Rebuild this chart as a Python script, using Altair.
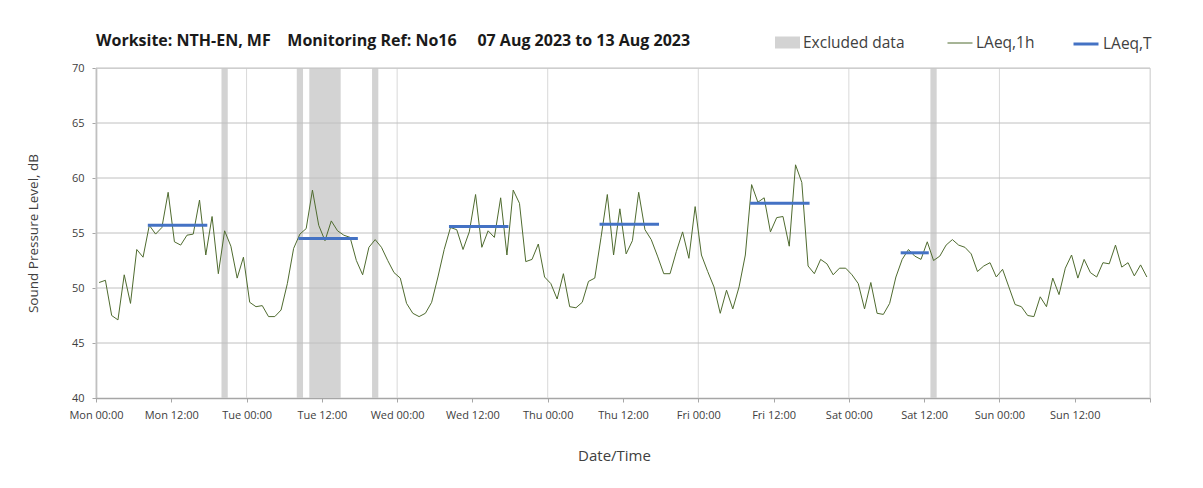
import altair as alt
import pandas as pd

# ---- data ----
days = ["Mon", "Tue", "Wed", "Thu", "Fri", "Sat", "Sun"]

laeq_1h = [
    50.5, 50.7, 47.5, 47.1, 51.2, 48.6, 53.5, 52.8, 55.7, 54.9, 55.5, 58.7,
    54.2, 53.9, 54.8, 54.9, 58.0, 53.0, 56.5, 51.3, 55.2, 53.8, 50.9, 52.8,
    48.7, 48.3, 48.4, 47.4, 47.4, 48.0, 50.4, 53.6, 54.9, 55.4, 58.9, 55.7,
    54.3, 56.1, 55.2, 54.8, 54.6, 52.5, 51.2, 53.7, 54.4, 53.7, 52.5, 51.4,
    50.9, 48.6, 47.7, 47.4, 47.7, 48.7, 51.0, 53.5, 55.5, 55.3, 53.5, 55.1,
    58.5, 53.7, 55.2, 54.6, 58.2, 53.0, 58.9, 57.7, 52.4, 52.6, 54.0, 51.0,
    50.4, 49.0, 51.3, 48.3, 48.2, 48.7, 50.6, 50.9, 54.6, 58.5, 53.0, 57.2,
    53.1, 54.3, 58.7, 55.3, 54.4, 52.9, 51.3, 51.3, 53.3, 55.1, 52.7, 57.4,
    53.0, 51.5, 50.1, 47.7, 49.8, 48.1, 50.1, 53.0, 59.4, 57.8, 58.2, 55.1,
    56.4, 56.5, 53.8, 61.2, 59.6, 52.0, 51.3, 52.6, 52.2, 51.2, 51.8, 51.8,
    51.2, 50.4, 48.1, 50.5, 47.7, 47.6, 48.6, 51.0, 52.6, 53.5, 52.9, 52.6,
    54.2, 52.5, 52.9, 53.9, 54.4, 53.9, 53.7, 53.1, 51.5, 52.0, 52.3, 51.0,
    51.7, 50.1, 48.5, 48.3, 47.5, 47.4, 49.2, 48.3, 50.9, 49.4, 51.8, 53.0,
    50.9, 52.6, 51.4, 51.0, 52.3, 52.2, 53.9, 51.9, 52.3, 51.1, 52.1, 51.0,
]

excl_start = [20, 32, 34, 44, 133]
excl_end = [21, 33, 39, 45, 134]

period_start = [8, 32, 56, 80, 104, 128]
period_end = [18, 42, 66, 90, 114, 133]
laeq_t = [55.7, 54.5, 55.6, 55.8, 57.7, 53.2]

y_grid = [45, 50, 55, 60, 65, 70]
day_bounds = [0, 24, 48, 72, 96, 120, 144, 168]
x_ticks = [0, 12, 24, 36, 48, 60, 72, 84, 96, 108, 120, 132, 144, 156, 168]
y_ticks = [40, 45, 50, 55, 60, 65, 70]

TITLE = ("Worksite: NTH-EN, MF\u00a0\u00a0\u00a0\u00a0Monitoring Ref: No16"
         "\u00a0\u00a0\u00a0\u00a0\u00a007 Aug 2023 to 13 Aug 2023")

# ---- tables ----
line_df = pd.DataFrame({
    "h": [i + 0.5 for i in range(len(laeq_1h))],
    "v": laeq_1h,
    "lab": "LAeq,1h",
})
band_df = pd.DataFrame({"h": excl_start, "h2": excl_end, "lab": "Excluded data"})
t_df = pd.DataFrame({
    "h": [s + 0.5 for s in period_start],
    "h2": [e - 0.5 for e in period_end],
    "v": laeq_t,
    "lab": "LAeq,T",
})
yg_df = pd.DataFrame({"v": y_grid})
xg_df = pd.DataFrame({"h": day_bounds})

FONT = "Open Sans"
TXT = "#404040"

days_js = "[" + ",".join("'%s'" % d for d in days) + "]"
label_expr = ("datum.value >= 168 ? '' : " + days_js +
              "[floor(datum.value / 24)] + ' ' + (datum.value % 24 == 0 ? '00:00' : '12:00')")

xs = alt.Scale(domain=[0, 168], nice=False, zero=False)
ys = alt.Scale(domain=[40, 70], nice=False, zero=False)

x_axis = alt.Axis(
    values=x_ticks, labelExpr=label_expr, grid=False, title="Date/Time",
    labelOverlap=False, labelFlush=False,
    domainColor="#a6a6a6", domainWidth=1.5, tickColor="#a6a6a6", tickSize=4,
    labelFont=FONT, labelFontSize=11, labelColor=TXT, labelPadding=7,
    titleFont=FONT, titleFontSize=15, titleFontWeight="normal", titleColor=TXT,
    titleX=518, titleY=50, titleBaseline="top",
)
y_axis = alt.Axis(
    values=y_ticks, grid=False, title="Sound Pressure Level, dB",
    domainColor="#a6a6a6", domainWidth=1.5, tickColor="#a6a6a6", tickSize=4,
    labelFont=FONT, labelFontSize=11, labelColor=TXT, labelPadding=8,
    titleFont=FONT, titleFontSize=13.5, titleFontWeight="normal", titleColor=TXT,
    titlePadding=31,
)


def X(field="h"):
    return alt.X(field, type="quantitative", scale=xs, axis=x_axis)


def Y(field="v"):
    return alt.Y(field, type="quantitative", scale=ys, axis=y_axis)


def leg(x, y, sym, sw):
    return alt.Legend(
        title=None, orient="none", legendX=x, legendY=y,
        symbolType=sym, symbolSize=625, symbolStrokeWidth=sw,
        labelFont=FONT, labelFontSize=15.5, labelColor=TXT, labelOffset=3,
        padding=0,
    )


vgrid = alt.Chart(xg_df).mark_rule(color="#d9d9d9", strokeWidth=1).encode(x=X())

bands = alt.Chart(band_df).mark_rect(opacity=1).encode(
    x=X(), x2="h2",
    y=alt.Y(datum=70, type="quantitative", scale=ys, axis=y_axis),
    y2=alt.Y2(datum=40),
    fill=alt.Fill("lab:N", scale=alt.Scale(domain=["Excluded data"], range=["#d3d3d3"]),
                  legend=leg(679, -38, "M-1,-0.48H1V0.48H-1Z", 0)),
)

hgrid = alt.Chart(yg_df).mark_rule(color="#c0c0c0", strokeWidth=1).encode(y=Y())

line = alt.Chart(line_df).mark_line(strokeWidth=1).encode(
    x=X(), y=Y(),
    color=alt.Color("lab:N", scale=alt.Scale(domain=["LAeq,1h"], range=["#4f6b2f"]),
                    legend=leg(851, -38, "stroke", 1)),
)

tline = alt.Chart(t_df).mark_rule(strokeWidth=3, strokeCap="square").encode(
    x=X(), x2="h2", y=Y(),
    stroke=alt.Stroke("lab:N", scale=alt.Scale(domain=["LAeq,T"], range=["#4472c4"]),
                      legend=leg(976, -38, "stroke", 3)),
)

chart = alt.layer(vgrid, bands, hgrid, line, tline).properties(
    width=1054, height=330,
    title=alt.TitleParams(TITLE, anchor="start", frame="group", font=FONT,
                          fontSize=16, fontWeight="bold", color="#1a1a1a",
                          offset=0, dy=19),
    autosize=alt.AutoSizeParams(type="none"),
    padding={"left": 88, "top": 60, "right": 45, "bottom": 80},
).configure_view(stroke=None).configure(background="white")

chart.save("out.html", embed_options={"renderer": "svg", "actions": False})
